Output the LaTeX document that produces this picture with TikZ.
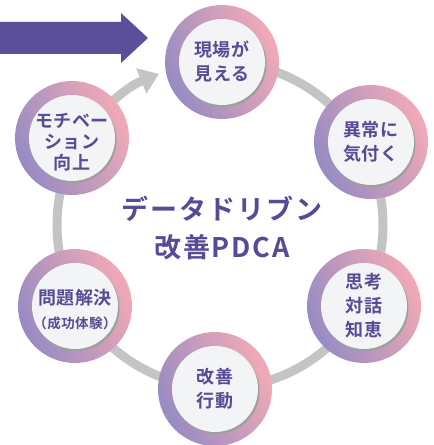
\documentclass[tikz,border=0pt]{standalone}
\usepackage{fontspec}
\setmainfont{Noto Sans CJK JP}[BoldFont={Noto Sans CJK JP Bold}]
\usetikzlibrary{arrows.meta,shadows,calc}
\definecolor{txt}{HTML}{574A96}
\definecolor{bigarrow}{HTML}{5B4F9C}
\definecolor{track}{HTML}{C4C4C4}
\definecolor{ringL}{HTML}{968BC3}
\definecolor{ringR}{HTML}{F2AAB6}
\definecolor{corefill}{HTML}{F3F4F6}
\begin{document}
\begin{tikzpicture}[x=1pt,y=1pt,
 ring/.style={circle, minimum size=114pt, inner sep=0pt, left color=ringL, right color=ringR, shading angle=115},
 core/.style={circle, minimum size=86pt, inner sep=0pt, fill=corefill,
   drop shadow={shadow xshift=1.5pt, shadow yshift=-2pt, fill=black!38, opacity=1},
   text=txt, align=center, font=\bfseries\fontsize{18}{24}\selectfont\addfontfeature{LetterSpace=3}},
 label/.style={text=txt, align=center, font=\bfseries\fontsize{18}{24}\selectfont\addfontfeature{LetterSpace=3}},
 trackline/.style={draw=track, line width=9pt},
 title/.style={text=txt, align=center, font=\bfseries\fontsize{27}{38}\selectfont\addfontfeature{LetterSpace=7}}]
\useasboundingbox (0,0) rectangle (434,445);
% big arrow
\fill[bigarrow] (0,391) -- (121,391) -- (121,382) -- (148,407) -- (121,432) -- (121,423) -- (0,423) -- cycle;
% track
\coordinate (c) at (220,220);
\draw[trackline] (c) ++(90:163) arc[start angle=90, end angle=-210, radius=163];
\draw[trackline, -{Triangle[width=26pt,length=19pt]}] (c) ++(150:163) arc[start angle=150, end angle=112, radius=163];
% rings
\node[ring] (r1) at (222,383) {};
\node[ring] (r2) at (371,303) {};
\node[ring] (r3) at (364,139) {};
\node[ring] (r4) at (215,56) {};
\node[ring] (r5) at (75,139) {};
\node[ring] (r6) at (72,307) {};
% cores
\node[core] (n1) at (r1) {現場が\\見える};
\node[core] (n2) at (r2) {異常に\\気付く};
\node[core] (n3) at (r3) {思考\\対話\\知恵};
\node[core] (n4) at (r4) {改善\\行動};
\node[core] (n5) at (r5) {};
\node[label] (t5) at ([yshift=-4pt]r5) {問題解決\\{\fontsize{13.5}{16}\selectfont （成功体験）}};
\node[core] (n6) at (r6) {};
\node[label, font=\bfseries\fontsize{18}{21}\selectfont\addfontfeature{LetterSpace=3}] (t6) at ([yshift=-4pt]r6) {モチベー\\ション\\向上};
% title
\node[title] (ttl) at (222,217) {データドリブン\\改善PDCA};
\end{tikzpicture}
\end{document}
